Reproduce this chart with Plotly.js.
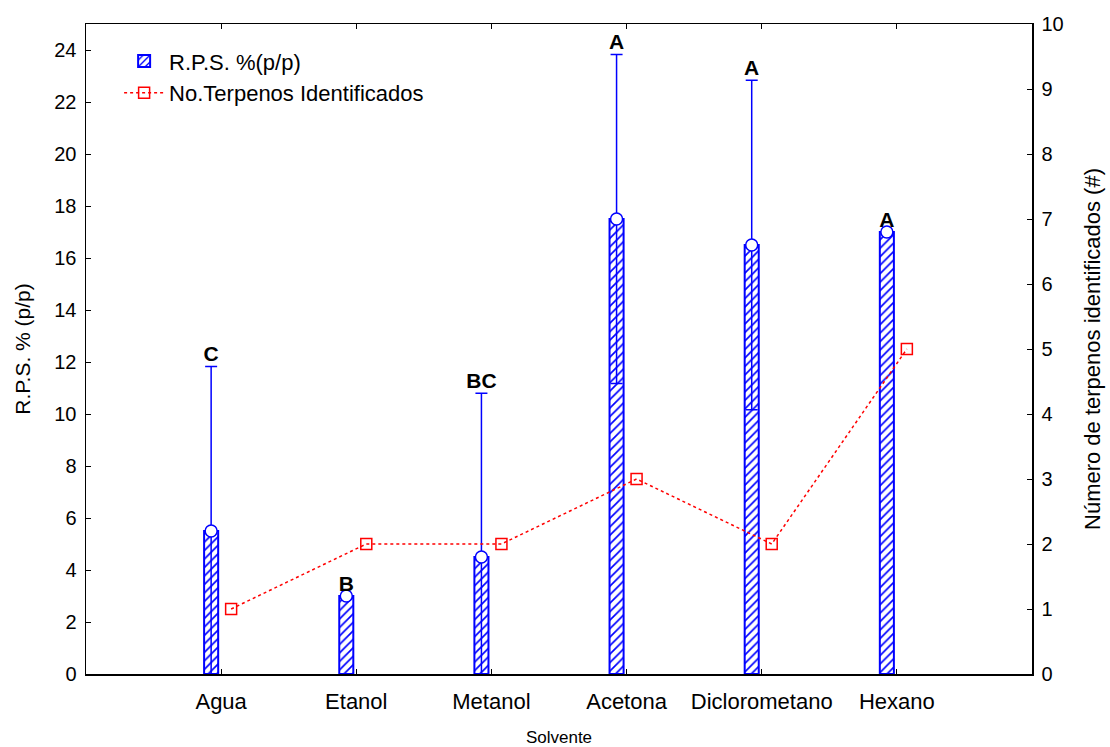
<!DOCTYPE html>
<html>
<head>
<meta charset="utf-8">
<script src="https://cdn.plot.ly/plotly-3.0.1.min.js"></script>
<style>html,body{margin:0;padding:0;background:#fff;}#chart{width:1110px;height:747px;}</style>
</head>
<body>
<div id="chart"></div>
<script>
const categories = ["Agua", "Etanol", "Metanol", "Acetona", "Diclorometano", "Hexano"];
const rpsValues = [5.5, 3.0, 4.5, 17.5, 16.5, 17.0];
const rpsErrors = [6.33, NaN, 6.3, 6.33, 6.34, NaN];
const groupLetters = ["C", "B", "BC", "A", "A", "A"];
const terpenos = [1, 2, 2, 3, 2, 5];

const idx = categories.map((c, i) => i);
const barShift = -0.074, pointShift = 0.074;
const xBar = idx.map(i => i + barShift);
const xPoint = idx.map(i => i + pointShift);
const letterY = rpsValues.map((v, i) => isNaN(rpsErrors[i]) ? v : v + rpsErrors[i]);

const blue = "#0000ff", red = "#ff0000";
const font = "Liberation Sans, Arial, sans-serif";

const traces = [
  {
    type: "bar", x: xBar, y: rpsValues, width: 0.104,
    name: "R.P.S. %(p/p)",
    marker: {color: "white", line: {color: blue, width: 2},
      pattern: {shape: "/", fgcolor: blue, bgcolor: "white", size: 6, solidity: 0.28}},
    hoverinfo: "skip"
  },
  {
    type: "scatter", mode: "markers", x: xBar, y: rpsValues, showlegend: false,
    marker: {symbol: "circle", size: 12, color: "white", line: {color: blue, width: 1.5}},
    error_y: {type: "data", array: rpsErrors, symmetric: true, visible: true, color: blue, thickness: 1.5, width: 6}
  },
  {
    type: "scatter", mode: "text", x: xBar, y: letterY, text: groupLetters, showlegend: false,
    textposition: "top center", textfont: {family: font, size: 21, color: "black", weight: "bold"},
    cliponaxis: false
  },
  {
    type: "scatter", mode: "lines+markers", x: xPoint, y: terpenos, yaxis: "y2",
    name: "No.Terpenos Identificados",
    line: {color: red, dash: "dot", width: 1.5},
    marker: {symbol: "square-open", size: 11, color: red, line: {width: 1.5, color: red}}
  }
];

const layout = {
  width: 1110, height: 747,
  margin: {l: 86, r: 78, t: 24, b: 73},
  paper_bgcolor: "white", plot_bgcolor: "white",
  font: {family: font, size: 20, color: "black"},
  showlegend: true,
  legend: {x: 0.035, y: 0.975, xanchor: "left", yanchor: "top", bgcolor: "rgba(0,0,0,0)",
    font: {family: font, size: 22}, tracegroupgap: 0, itemwidth: 40},
  bargap: 0,
  xaxis: {
    range: [-1, 6], tickmode: "array", tickvals: idx, ticktext: categories,
    showline: true, linecolor: "black", linewidth: 1.5, mirror: "ticks",
    ticks: "inside", ticklen: 5, tickcolor: "black", showgrid: false, zeroline: false,
    tickfont: {family: font, size: 22}, ticklabelstandoff: 7,
    title: {text: "Solvente", font: {family: font, size: 17}, standoff: 21}
  },
  yaxis: {
    range: [0, 25], dtick: 2, tick0: 0,
    showline: true, linecolor: "black", linewidth: 1.5,
    ticks: "inside", ticklen: 5, tickcolor: "black", showgrid: false, zeroline: false,
    tickfont: {family: font, size: 20}, ticklabelstandoff: 4,
    title: {text: "R.P.S. % (p/p)", font: {family: font, size: 21}, standoff: 18}
  },
  yaxis2: {
    range: [0, 10], dtick: 1, overlaying: "y", side: "right",
    showline: true, linecolor: "black", linewidth: 1.5,
    ticks: "inside", ticklen: 5, tickcolor: "black", showgrid: false, zeroline: false,
    tickfont: {family: font, size: 20}, ticklabelstandoff: 4,
    title: {text: "Número de terpenos identificados (#)", font: {family: font, size: 22}, standoff: 22}
  }
};

Plotly.newPlot("chart", traces, layout, {displayModeBar: false, staticPlot: true});
</script>
</body>
</html>
